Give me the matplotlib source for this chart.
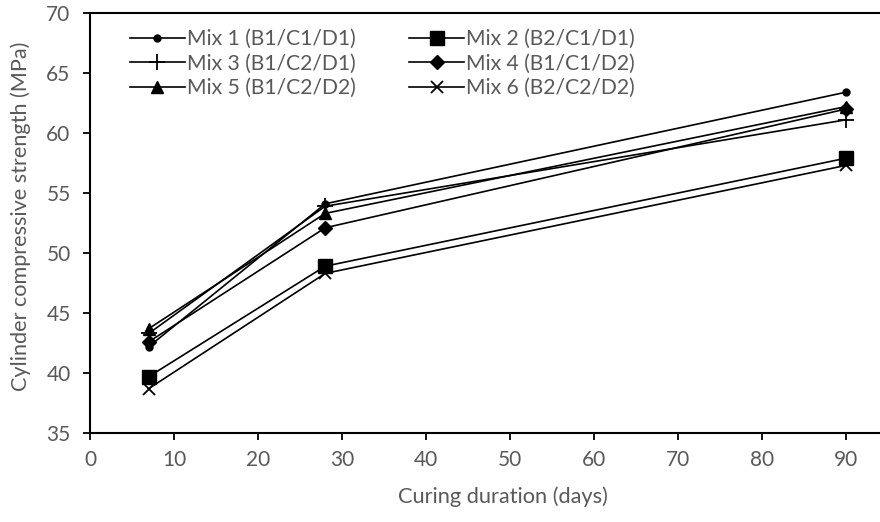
import matplotlib.pyplot as plt

days = [7, 28, 90]
mix1 = [42.2, 54.1, 63.4]
mix2 = [39.7, 48.9, 57.9]
mix3 = [43.3, 53.9, 61.1]
mix4 = [42.6, 52.1, 62.0]
mix5 = [43.7, 53.3, 62.2]
mix6 = [38.7, 48.3, 57.3]
labels = ['Mix 1 (B1/C1/D1)', 'Mix 2 (B2/C1/D1)', 'Mix 3 (B1/C2/D1)',
          'Mix 4 (B1/C1/D2)', 'Mix 5 (B1/C2/D2)', 'Mix 6 (B2/C2/D2)']

plt.rcParams['font.family'] = ['Lato', 'DejaVu Sans']
grey = '#595959'

fig = plt.figure(figsize=(8.8, 5.22), dpi=100)
ax = fig.add_axes([90 / 880, 89 / 522, 840 / 880, 420 / 522])

styles = [
    dict(marker='o', markersize=5),
    dict(marker='s', markersize=10),
    dict(marker='+', markersize=12, markeredgewidth=1.3),
    dict(marker='D', markersize=7),
    dict(marker='^', markersize=9),
    dict(marker='x', markersize=9, markeredgewidth=1.3),
]
series = [mix1, mix2, mix3, mix4, mix5, mix6]
for vals, lab, st in zip(series, labels, styles):
    ax.plot(days, vals, color='black', linewidth=1.2, label=lab, **st)

ax.set_xlim(0, 100)
ax.set_ylim(35, 70)
ax.set_xticks(range(0, 100, 10))
ax.set_yticks(range(35, 71, 5))
ax.tick_params(direction='out', length=5, width=1.3, colors='black',
               labelcolor=grey, labelsize=15)
ax.tick_params(axis='y', pad=9)
ax.tick_params(axis='x', pad=7)
for s in ax.spines.values():
    s.set_linewidth(1.5)

ax.set_xlabel('Curing duration (days)', color=grey, fontsize=15.7)
ax.set_ylabel('Cylinder compressive strength (MPa)', color=grey, fontsize=15.6)
ax.xaxis.set_label_coords(0.4917, -0.127)
ax.yaxis.set_label_coords(-0.083, 0.515)
ax.yaxis.label.set_va('center')

# reorder so rows read Mix1/Mix2, Mix3/Mix4, Mix5/Mix6
h, l = ax.get_legend_handles_labels()
order = [0, 2, 4, 1, 3, 5]
leg = ax.legend([h[i] for i in order], [l[i] for i in order], ncol=2,
                loc='upper left', bbox_to_anchor=(0.0476, 0.962), frameon=False,
                borderaxespad=0, borderpad=0,
                fontsize=15.2, handlelength=2.6, handletextpad=0.12,
                columnspacing=2.5, labelspacing=0.22)
for t in leg.get_texts():
    t.set_color(grey)

fig.savefig('out.png', dpi=100)
